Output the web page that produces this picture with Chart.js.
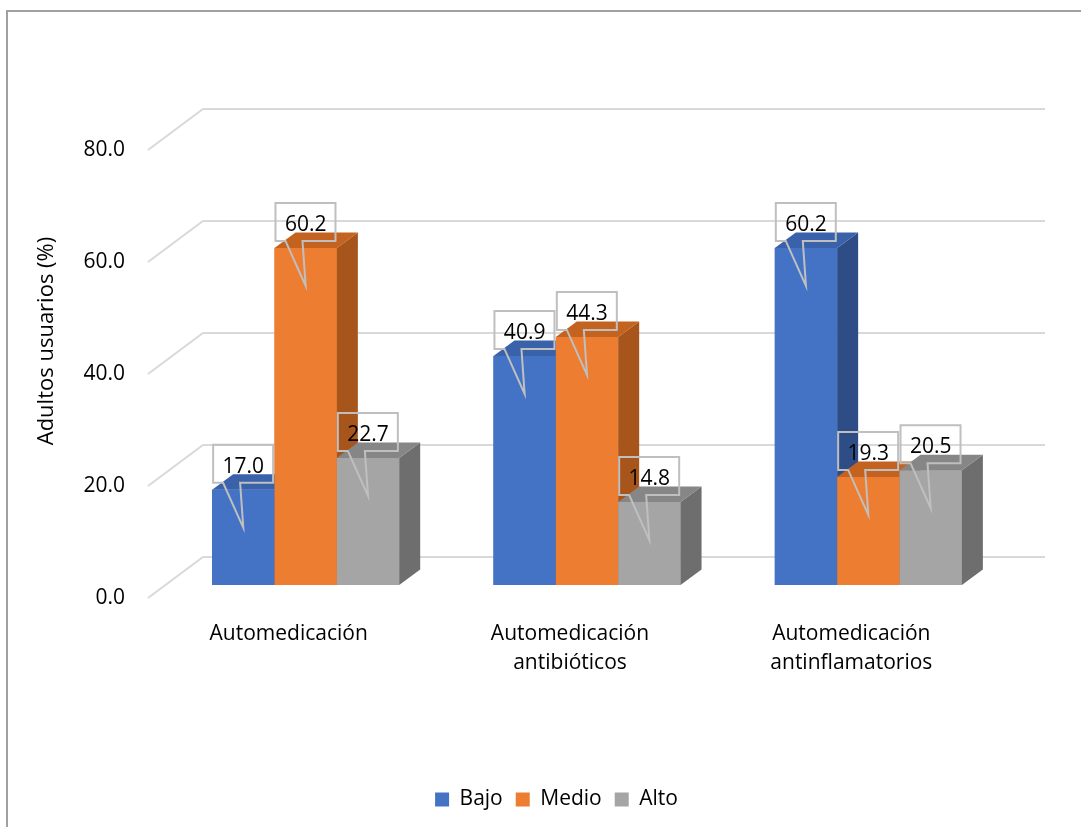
<!DOCTYPE html>
<html>
<head>
<meta charset="utf-8">
<script src="https://cdn.jsdelivr.net/npm/chart.js@4.4.1/dist/chart.umd.min.js"></script>
<style>
    html, body { margin: 0; padding: 0; background: #fff; }
    .frame {
        position: absolute;
        left: 6px;
        top: 10px;
        width: 1200px;
        height: 1000px;
        border-top: 2px solid #a0a0a0;
        border-left: 2px solid #a0a0a0;
    }
    .chart-box {
        position: absolute;
        left: 0;
        top: 0;
        width: 1081px;
        height: 827px;
    }
</style>
</head>
<body>
<div class="frame"></div>
<div class="chart-box"><canvas id="mainChart"></canvas></div>
<script>
// Chart data
const categories = [
    'Automedicación',
    ['Automedicación', 'antibióticos'],
    ['Automedicación', 'antinflamatorios']
];
const seriesNames = ['Bajo', 'Medio', 'Alto'];
const bajo = [17.0, 40.9, 60.2];
const medio = [60.2, 44.3, 19.3];
const alto = [22.7, 14.8, 20.5];
const yTicks = [0, 20, 40, 60, 80];

// Colours: front, side, top
const frontColors = ['#4472C4', '#ED7D31', '#A5A5A5'];
const sideColors = ['#2E4D86', '#A8551C', '#6E6E6E'];
const topColors = ['#3A62AA', '#C4621F', '#868686'];

// 3D depth of the bars and of the wall
const depth = { dx: 21, dy: -15.5 };
const wall = { frontDx: -17, frontDy: 13, backDx: 38, backDy: -28, rightExtra: 36 };

Chart.defaults.font.family = "'Open Sans', sans-serif";
Chart.defaults.font.size = 21;
Chart.defaults.color = '#000';

// Back wall grid + left diagonals
const wallGrid = {
    id: 'wallGrid',
    afterLayout(chart) {
        // nudge the legend to the right, like the original
        chart.legend.left += 12;
        chart.legend.right += 12;
    },
    beforeDatasetsDraw(chart) {
        const ctx = chart.ctx;
        const y = chart.scales.y;
        const area = chart.chartArea;
        ctx.save();
        ctx.strokeStyle = '#d9d9d9';
        ctx.lineWidth = 2;
        yTicks.forEach(v => {
            const py = y.getPixelForValue(v);
            ctx.beginPath();
            ctx.moveTo(area.left + wall.frontDx, py + wall.frontDy);
            ctx.lineTo(area.left + wall.backDx, py + wall.backDy);
            ctx.lineTo(area.right + wall.rightExtra, py + wall.backDy);
            ctx.stroke();
        });
        ctx.restore();
    }
};

// Side and top faces, drawn bar by bar so the next bar covers the previous side
const bars3d = {
    id: 'bars3d',
    afterDatasetsDraw(chart) {
        const ctx = chart.ctx;
        const metas = chart.data.datasets.map((d, i) => chart.getDatasetMeta(i));
        ctx.save();
        categories.forEach((c, i) => {
            metas.forEach((meta, d) => {
                const bar = meta.data[i];
                const left = bar.x - bar.width / 2;
                const right = bar.x + bar.width / 2;
                const top = bar.y;
                const bottom = bar.base;
                bar.draw(ctx);

                // side face
                ctx.fillStyle = sideColors[d];
                ctx.beginPath();
                ctx.moveTo(right, top);
                ctx.lineTo(right + depth.dx, top + depth.dy);
                ctx.lineTo(right + depth.dx, bottom + depth.dy);
                ctx.lineTo(right, bottom);
                ctx.closePath();
                ctx.fill();

                // top face
                ctx.fillStyle = topColors[d];
                ctx.beginPath();
                ctx.moveTo(left, top);
                ctx.lineTo(left + depth.dx, top + depth.dy);
                ctx.lineTo(right + depth.dx, top + depth.dy);
                ctx.lineTo(right, top);
                ctx.closePath();
                ctx.fill();
            });
        });
        ctx.restore();
    },
    afterDraw(chart) {
        // Callout labels
        const ctx = chart.ctx;
        ctx.save();
        chart.data.datasets.forEach((ds, d) => {
            chart.getDatasetMeta(d).data.forEach((bar, i) => {
                const L = bar.x - bar.width / 2 + 1;
                const R = L + 60;
                const T = bar.y - 45;
                const B = bar.y - 7;
                const cx = bar.x;
                ctx.strokeStyle = '#bfbfbf';
                ctx.lineWidth = 2;
                ctx.beginPath();
                ctx.moveTo(L, T);
                ctx.lineTo(R, T);
                ctx.lineTo(R, B);
                ctx.lineTo(L + 27, B);
                ctx.lineTo(cx, bar.y + 38);
                ctx.lineTo(L + 10, B);
                ctx.lineTo(L, B);
                ctx.closePath();
                ctx.stroke();

                ctx.fillStyle = '#000';
                ctx.font = "21px 'Open Sans', sans-serif";
                ctx.textAlign = 'center';
                ctx.textBaseline = 'middle';
                ctx.fillText(ds.data[i].toFixed(1), cx, (T + B) / 2 + 3);
            });
        });

        // Y axis title
        ctx.translate(47, 341);
        ctx.rotate(-Math.PI / 2);
        ctx.fillStyle = '#000';
        ctx.font = "22px 'Open Sans', sans-serif";
        ctx.textAlign = 'center';
        ctx.textBaseline = 'middle';
        ctx.fillText('Adultos usuarios (%)', 0, 0);
        ctx.restore();
    }
};

function makeDataset(i, values) {
    return {
        label: seriesNames[i],
        data: values,
        backgroundColor: frontColors[i],
        borderWidth: 0,
        categoryPercentage: 0.665,
        barPercentage: 1.0
    };
}

const ctx = document.getElementById('mainChart').getContext('2d');
const mainChart = new Chart(ctx, {
    type: 'bar',
    data: {
        labels: categories,
        datasets: [
            makeDataset(0, bajo),
            makeDataset(1, medio),
            makeDataset(2, alto)
        ]
    },
    options: {
        responsive: true,
        maintainAspectRatio: false,
        animation: false,
        layout: {
            padding: { top: 137, left: 80, right: 72, bottom: 7 }
        },
        plugins: {
            legend: {
                position: 'bottom',
                labels: {
                    boxWidth: 14,
                    boxHeight: 14,
                    padding: 13
                }
            },
            tooltip: { enabled: false }
        },
        scales: {
            x: {
                grid: { display: false, drawTicks: false },
                border: { display: false },
                afterFit(axis) { axis.height = 191; },
                ticks: {
                    padding: 34,
                    labelOffset: -17,
                    maxRotation: 0,
                    font: { lineHeight: 1.4 }
                }
            },
            y: {
                min: 0,
                max: 80,
                grid: { display: false, drawTicks: false },
                border: { display: false },
                afterFit(axis) { axis.width = 85; },
                afterBuildTicks(axis) {
                    axis.ticks = yTicks.map(v => ({ value: v }));
                },
                ticks: {
                    padding: 40,
                    labelOffset: 13,
                    callback: v => v.toFixed(1)
                }
            }
        }
    },
    plugins: [wallGrid, bars3d]
});
</script>
</body>
</html>
